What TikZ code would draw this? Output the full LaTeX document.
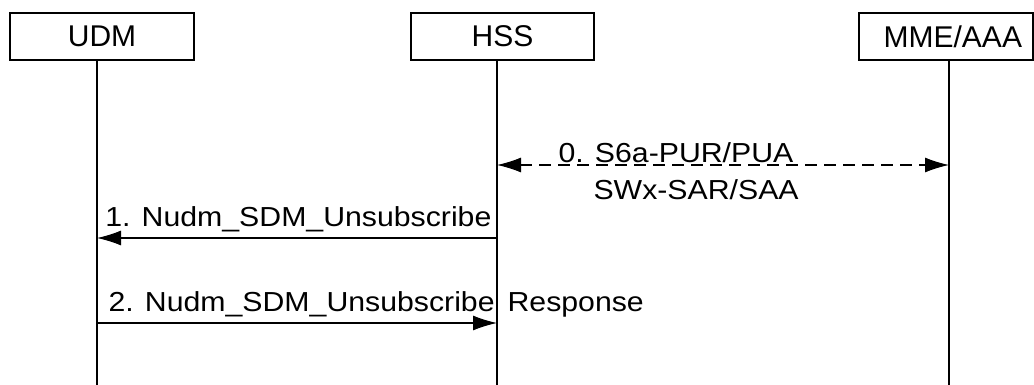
\documentclass[tikz,border=0pt]{standalone}
\usepackage{fontspec}
\setmainfont{Liberation Sans}
\newfontfamily\msgfont{Liberation Sans}[FakeStretch=1.1]
\usetikzlibrary{arrows.meta}

\begin{document}
\begin{tikzpicture}[x=1pt,y=-1pt,line width=1.1pt,
    >={Latex[length=24pt,width=15pt]},
    entity/.style={draw,text width=#1,minimum height=47pt,inner xsep=11pt,inner ysep=0pt,
      align=center,font=\fontsize{30}{32}\selectfont},
    lbl/.style={inner sep=0pt,font=\msgfont\fontsize{27.5}{30}\selectfont}]
		\useasboundingbox (0,0) rectangle (1034,385);
		%put the entities on top
		\foreach \n/\t/\x/\w in {udm/UDM/102/162,hss/HSS/502.5/161}{
			\node[entity=\w pt] (\n) at (\x,36.5) {\t};
		}
		\node[entity=152pt,align=right] (mme) at (946,36.5) {MME/AAA};
		%put the lifelines below them
		\foreach \n/\x in {udm/97,hss/497,mme/949}{
			\coordinate (\n top) at (\x,60);
			\coordinate (\n end) at (\x,385);
			\draw (\n top) -- (\n end);
			\coordinate (\n0) at (\x,165);
			\coordinate (\n1) at (\x,238);
			\coordinate (\n2) at (\x,323);
		}
		%messages
		\draw[<->,dash pattern=on 12pt off 7pt] (hss0) -- (mme0);
		\node[lbl,anchor=base west] (m0a) at (558,163) {0. S6a-PUR/PUA};
		\node[lbl,anchor=base west] (m0b) at (593,200) {SWx-SAR/SAA};
		\draw[->] (hss1) -- (udm1);
		\node[lbl,anchor=base east] (m1) at (492,226) {1. Nudm\_SDM\_Unsubscribe};
		\draw[->] (udm2) -- (hss2);
		\node[lbl,anchor=base west] (m2) at (108,311) {2. Nudm\_SDM\_Unsubscribe\hspace{13pt}Response};
\end{tikzpicture}
\end{document}
